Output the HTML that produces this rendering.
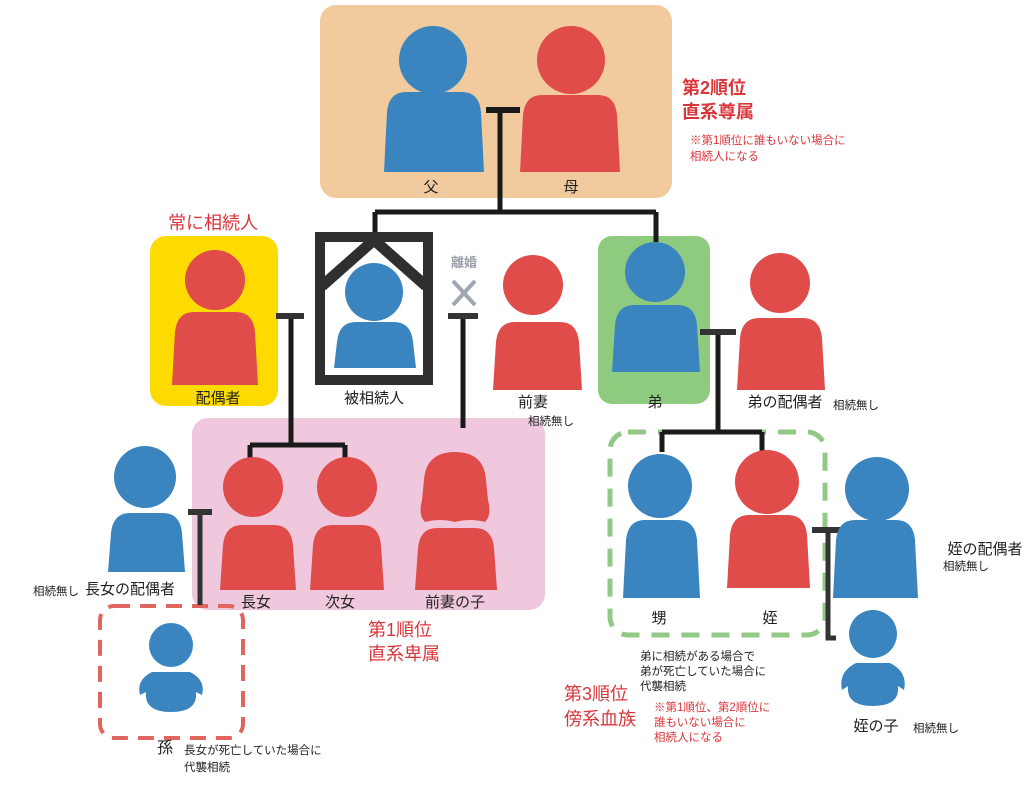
<!DOCTYPE html>
<html><head><meta charset="utf-8"><style>
html,body{margin:0;padding:0;background:#fff;}
svg{display:block;font-family:"Liberation Sans","Noto Sans CJK JP",sans-serif;}
</style></head><body>
<svg width="1024" height="787" viewBox="0 0 1024 787">
<rect x="320" y="5" width="352" height="193" rx="16" fill="#f1cb9d"/>
<rect x="150" y="236" width="128" height="170" rx="16" fill="#fedb00"/>
<rect x="598" y="236" width="112" height="168" rx="14" fill="#8fcb7f"/>
<rect x="192" y="418" width="353" height="192" rx="16" fill="#efc8dd"/>
<rect x="100" y="606" width="143" height="132" rx="14" fill="none" stroke="#e0655f" stroke-width="4" stroke-dasharray="16 10"/>
<rect x="610" y="432" width="215" height="203" rx="18" fill="none" stroke="#93c987" stroke-width="5" stroke-dasharray="18 12"/>

<g stroke="#1a1a1a" stroke-width="5" fill="none">
<path d="M500 110V212M375 212H656M375 212V234M656 212V242"/>
<path d="M486 110H520" stroke-width="6"/>
<path d="M291 316V445M250 445H345M250 445V462M345 445V462"/>
<path d="M463 316V428"/>
<path d="M718 332V432M662 432H762M662 432V452M762 432V452"/>
</g>
<g stroke="#333" stroke-width="6" fill="none">
<path d="M276 316H304"/><path d="M448 316H478"/><path d="M700 332H736"/>
<path d="M188 512H212"/><path d="M200 512V605" stroke-width="5"/>
<path d="M812 530H848"/><path d="M828 530V638H836" stroke-width="5"/>
</g>

<g fill="#3a85c0">
<circle cx="433" cy="60" r="34"/><path d="M384 172 L387 112 Q389 92 406 92 L462 92 Q479 92 481 112 L484 172Z"/>
<circle cx="374" cy="292" r="29"/><path d="M334 368 L337 342 Q339 322 356 322 L394 322 Q411 322 413 342 L416 368Z"/>
<circle cx="655" cy="272" r="30"/><path d="M612 372 L615 325 Q617 305 634 305 L678 305 Q695 305 697 325 L700 372Z"/>
<circle cx="145" cy="477" r="31"/><path d="M108 572 L111 533 Q113 513 130 513 L163 513 Q180 513 182 533 L185 572Z"/>
<circle cx="660" cy="486" r="32"/><path d="M623 598 L626 540 Q628 520 645 520 L678 520 Q695 520 697 540 L700 598Z"/>
<circle cx="877" cy="489" r="32"/><path d="M833 598 L836 540 Q838 520 855 520 L896 520 Q913 520 915 540 L918 598Z"/>
<circle cx="171" cy="645" r="22"/><path d="M140 695 Q136 680 152 672 L190 672 Q206 680 202 695 L196 692 Q198 712 171 712 Q144 712 146 692Z"/>
<circle cx="873" cy="634" r="24"/><path d="M842 690 Q838 672 856 663 L890 663 Q908 672 904 690 L898 686 Q900 706 873 706 Q846 706 848 686Z"/>
</g>
<g fill="#df4c4a">
<circle cx="571" cy="60" r="34"/><path d="M520 172 L523 115 Q525 95 542 95 L598 95 Q615 95 617 115 L620 172Z"/>
<circle cx="215" cy="280" r="30"/><path d="M172 385 L175 332 Q177 312 194 312 L236 312 Q253 312 255 332 L258 385Z"/>
<circle cx="533" cy="285" r="30"/><path d="M493 390 L496 342 Q498 322 515 322 L560 322 Q577 322 579 342 L582 390Z"/>
<circle cx="780" cy="283" r="30"/><path d="M737 390 L740 338 Q742 318 759 318 L803 318 Q820 318 822 338 L825 390Z"/>
<circle cx="253" cy="487" r="30"/><path d="M220 590 L223 545 Q225 525 242 525 L274 525 Q291 525 293 545 L296 590Z"/>
<circle cx="347" cy="487" r="30"/><path d="M310 590 L313 545 Q315 525 332 525 L362 525 Q379 525 381 545 L384 590Z"/>
<path d="M425 522 Q418 515 422 500 L424 480 Q426 452 455 452 Q484 452 486 480 L488 500 Q492 515 485 522 Q470 518 455 522 Q440 518 425 522Z"/>
<path d="M415 590 L418 548 Q420 528 437 528 L475 528 Q492 528 494 548 L497 590Z"/>
<circle cx="767" cy="482" r="32"/><path d="M727 588 L730 535 Q732 515 749 515 L788 515 Q805 515 807 535 L810 588Z"/>
</g>

<g stroke="#2f2f2f" fill="none">
<rect x="320" y="237" width="108" height="143" stroke-width="10"/>
<path d="M322 286 L374 240 L426 286" stroke-width="11"/>
</g>
<path d="M453 281 L475 305 M475 281 L453 305" stroke="#a0a6b0" stroke-width="4"/>

<g fill="#222" font-size="15" text-anchor="middle">
<text x="431" y="192">父</text><text x="571" y="192">母</text>
<text x="218" y="403">配偶者</text><text x="374" y="403">被相続人</text>
<text x="533" y="407">前妻</text><text x="655" y="407">弟</text>
<text x="785" y="407">弟の配偶者</text>
<text x="256" y="607">長女</text><text x="340" y="607">次女</text><text x="455" y="607">前妻の子</text>
<text x="130" y="594">長女の配偶者</text>
<text x="659" y="623">甥</text><text x="770" y="623">姪</text>
<text x="985" y="554">姪の配偶者</text>
<text x="876" y="731">姪の子</text>
<text x="165" y="753" font-size="16">孫</text>
</g>
<g fill="#222" font-size="11.5">
<text x="528" y="425">相続無し</text>
<text x="833" y="409">相続無し</text>
<text x="943" y="570">相続無し</text>
<text x="33" y="595">相続無し</text>
<text x="913" y="732">相続無し</text>
<text x="184" y="754">長女が死亡していた場合に</text>
<text x="184" y="771">代襲相続</text>
<text x="640" y="660">弟に相続がある場合で</text>
<text x="640" y="675">弟が死亡していた場合に</text>
<text x="640" y="690">代襲相続</text>
</g>
<text x="451" y="267" font-size="13" font-weight="bold" fill="#9aa0aa">離婚</text>
<g fill="#d9363a">
<text x="682" y="94" font-size="18" font-weight="bold">第2順位</text>
<text x="682" y="118" font-size="18" font-weight="bold">直系尊属</text>
<text x="690" y="144" font-size="11.5">※第1順位に誰もいない場合に</text>
<text x="690" y="160" font-size="11.5">相続人になる</text>
<text x="168" y="229" font-size="18">常に相続人</text>
<text x="368" y="636" font-size="18">第1順位</text>
<text x="368" y="660" font-size="18">直系卑属</text>
<text x="564" y="700" font-size="18">第3順位</text>
<text x="564" y="725" font-size="18">傍系血族</text>
<text x="654" y="711" font-size="11.5">※第1順位、第2順位に</text>
<text x="654" y="726" font-size="11.5">誰もいない場合に</text>
<text x="654" y="741" font-size="11.5">相続人になる</text>
</g>
</svg>
</body></html>
